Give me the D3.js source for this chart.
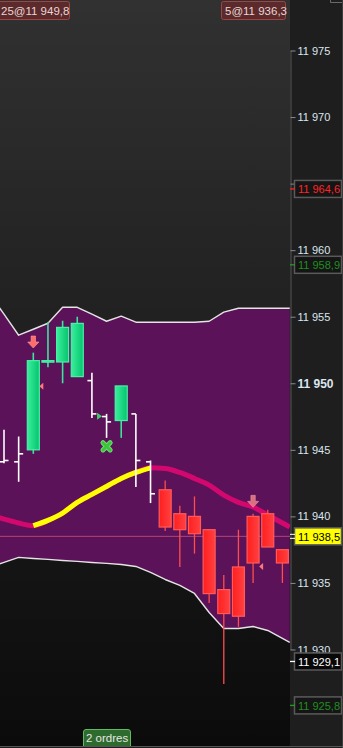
<!DOCTYPE html>
<html><head><meta charset="utf-8">
<script src="https://cdn.jsdelivr.net/npm/d3@7"></script>
<style>html,body{margin:0;padding:0;background:#1e1e1e;overflow:hidden}svg{display:block}</style>
</head><body><svg id="c" width="343" height="748"></svg>
<script>
// ---------- DATA ----------
const barKind = ["w","w","g","g","g","g","w","w","g","w","w","r","r","r","r","r","r","r","r","r"];
const opens  = [11944.1,11944.1,11945.0,11951.6,11951.6,11950.5,11950.2,11947.5,11947.2,11947.7,11944.1,11942.0,11940.2,11940.0,11939.0,11934.5,11936.2,11940.0,11940.2,11937.5];
const highs  = [11946.5,11946.0,11952.3,11954.6,11954.7,11955.0,11950.8,11947.7,11949.8,11947.7,11944.2,11942.7,11940.8,11941.5,11939.0,11935.6,11939.0,11940.2,11940.5,11937.5];
const lows   = [11944.0,11942.6,11944.7,11951.2,11950.0,11950.5,11947.4,11945.9,11945.9,11942.2,11941.0,11938.9,11936.2,11937.2,11933.5,11927.4,11931.7,11935.0,11937.7,11935.0];
const closes = [11944.2,11944.7,11951.7,11951.7,11954.2,11954.5,11947.7,11947.1,11949.8,11944.2,11941.7,11939.2,11939.0,11938.7,11934.2,11932.7,11932.5,11936.5,11937.7,11936.5];
const movingAvg = [11939.8,11939.5,11939.3,11939.7,11940.25,11941.05,11941.65,11942.25,11942.85,11943.3,11943.65,11943.6,11943.3,11942.85,11942.35,11941.6,11941.05,11940.7,11940.1,11939.5];
const maRisingFrom = 2, maRisingTo = 10;
const upperBand = [11955.19,11953.61,11954.06,11954.51,11955.71,11955.71,11955.19,11954.66,11955.04,11954.59,11954.59,11954.59,11954.59,11954.59,11954.66,11955.34,11955.64,11955.64,11955.64,11955.64];
const lowerBand = [11936.54,11936.92,11936.84,11936.77,11936.69,11936.62,11936.54,11936.47,11936.39,11936.24,11935.79,11935.26,11934.81,11934.21,11932.78,11931.58,11931.58,11931.73,11931.43,11930.83];
const tickValues = [11930,11935,11940,11945,11950,11955,11960,11965,11970,11975];
const lastPrice = 11938.5;
const priceLabels = [11964.6, 11958.9, 11938.5, 11929.1, 11925.8];
const orderQty = [25, 5];
const orderPrice = [11949.8, 11936.3];
const ordersText = "2 ordres";
const markerBars   = [2, 2, 7, 7, 17, 17];
const markerPrices = [11953.1, 11949.77, 11947.52, 11945.26, 11941.13, 11936.24];
const markerTypes  = ["arrowDown","triLeft","triRight","cross","arrowDownPale","triLeft"];

// ---------- STYLES / LAYOUT ----------
const W = 343, H = 748, plotW = 290, plotH = 746;
const labelStyle = [
  {fill:"#151515", text:"#ff2424", mark:"#ff2424"},
  {fill:"#151515", text:"#1f8f1f", mark:"#1f9f1f"},
  {fill:"#ffff00", text:"#000000", mark:"#ffffff", dbl:true},
  {fill:"#080808", text:"#ffffff", mark:"#ffffff"},
  {fill:"#151515", text:"#1f8f1f", mark:"#1f9f1f"}
];
const markerOffset = {arrowDown:0, arrowDownPale:0, triLeft:8, triRight:-7, cross:0};

const loc = d3.formatLocale({decimal:",", thousands:" ", grouping:[3], currency:["",""]});
const fmt0 = loc.format(",.0f"), fmt1 = loc.format(",.1f");
const FONT = "'Liberation Sans', Arial, sans-serif";

const svg = d3.select("#c");
const defs = svg.append("defs");
const bgG = defs.append("linearGradient").attr("id","bg").attr("x1",0).attr("y1",0).attr("x2",0).attr("y2",1);
bgG.append("stop").attr("offset","0%").attr("stop-color","#313131");
bgG.append("stop").attr("offset","100%").attr("stop-color","#0b0b0b");
const gG = defs.append("linearGradient").attr("id","gg").attr("x1",0).attr("x2",1).attr("y1",0).attr("y2",0);
gG.append("stop").attr("offset","0%").attr("stop-color","#3aee9c");
gG.append("stop").attr("offset","100%").attr("stop-color","#05c46e");
const rG = defs.append("linearGradient").attr("id","rg").attr("x1",0).attr("x2",1).attr("y1",0).attr("y2",0);
rG.append("stop").attr("offset","0%").attr("stop-color","#ff1f1f");
rG.append("stop").attr("offset","100%").attr("stop-color","#ff4040");
defs.append("clipPath").attr("id","clip").append("rect").attr("width",plotW).attr("height",plotH);

svg.append("rect").attr("width",W).attr("height",H).attr("fill","#1e1e1e");
svg.append("rect").attr("width",plotW).attr("height",plotH).attr("fill","url(#bg)");

const x = d3.scaleLinear().domain([0, 19]).range([4, 282.4]);
const y = d3.scaleLinear().domain([11930, 11975]).range([649.5, 50.5]);

const plot = svg.append("g").attr("clip-path","url(#clip)");
const idx = d3.range(barKind.length);
function extend(arr){
  const n = arr.length;
  const pts = arr.map((v,i)=>[i,v]);
  const a = -0.5, b = n - 0.5;
  pts.unshift([a, arr[0] + (arr[0]-arr[1])*0.5]);
  pts.push([b, arr[n-1] + (arr[n-1]-arr[n-2])*0.5]);
  return pts;
}
// Bollinger band
const up = extend(upperBand), lo = extend(lowerBand);
const band = up.map((p,k)=>[p[0], p[1], lo[k][1]]);
plot.append("path").datum(band)
  .attr("d", d3.area().x(d=>x(d[0])).y0(d=>y(d[2])).y1(d=>y(d[1])))
  .attr("fill","#5b1259");
const bl = d3.line().x(d=>x(d[0])).y(d=>y(d[1]));
[up, lo].forEach(s=>plot.append("path").datum(s).attr("d",bl)
  .attr("fill","none").attr("stroke","#e4e4e4").attr("stroke-width",1.4).attr("stroke-linejoin","round"));

// last price line
plot.append("line").attr("x1",0).attr("x2",plotW).attr("y1",y(lastPrice)).attr("y2",y(lastPrice))
  .attr("stroke","#c0507a").attr("stroke-width",1).attr("opacity",0.85);

// moving average
const ma = extend(movingAvg);
const maLine = d3.line().x(d=>x(d[0])).y(d=>y(d[1])).curve(d3.curveMonotoneX);
plot.append("path").datum(ma).attr("d",maLine).attr("fill","none")
  .attr("stroke","#d2086e").attr("stroke-width",5);
plot.append("path").datum(ma.filter(d=>d[0]>=maRisingFrom && d[0]<=maRisingTo)).attr("d",maLine)
  .attr("fill","none").attr("stroke","#ffff00").attr("stroke-width",5).attr("stroke-linecap","butt");

// candles
const cg = plot.append("g");
idx.forEach(i=>{
  const cx = x(i), k = barKind[i];
  if (k === "w") {
    const g = cg.append("g").attr("stroke","#ffffff").attr("stroke-width",1.6);
    g.append("line").attr("x1",cx).attr("x2",cx).attr("y1",y(highs[i])).attr("y2",y(lows[i]));
    g.append("line").attr("x1",cx-4.5).attr("x2",cx).attr("y1",y(opens[i])).attr("y2",y(opens[i]));
    g.append("line").attr("x1",cx).attr("x2",cx+4.5).attr("y1",y(closes[i])).attr("y2",y(closes[i]));
  } else {
    const green = k === "g";
    cg.append("line").attr("x1",cx).attr("x2",cx).attr("y1",y(highs[i])).attr("y2",y(lows[i]))
      .attr("stroke", green ? "#3de39c" : "#ff4d4d").attr("stroke-width", green ? 1.6 : 1.3);
    const top = y(Math.max(opens[i],closes[i])), bot = y(Math.min(opens[i],closes[i]));
    cg.append("rect").attr("x",cx-6).attr("width",12).attr("y",top).attr("height",Math.max(1.5,bot-top))
      .attr("fill", green ? "url(#gg)" : "url(#rg)")
      .attr("stroke", green ? "#48f2a8" : "#ff5a5a").attr("stroke-width",1.2);
  }
});

// markers
const mg = plot.append("g");
markerTypes.forEach((t,k)=>{
  const cx = x(markerBars[k]) + markerOffset[t], cy = y(markerPrices[k]);
  if (t === "arrowDown" || t === "arrowDownPale") {
    mg.append("path").attr("d",`M${cx-2.2},${cy-6} h4.4 v6 h3.4 L${cx},${cy+6} L${cx-5.6},${cy} h3.4 Z`)
      .attr("fill", t==="arrowDown" ? "#ff6c6c" : "#e87a86")
      .attr("stroke", t==="arrowDown" ? "#ff9c9c" : "#f0a0a8").attr("stroke-width",0.6)
      .attr("opacity", t==="arrowDown" ? 1 : 0.9);
  } else if (t === "triLeft") {
    mg.append("path").attr("d",`M${cx+2},${cy-3.5} L${cx-2},${cy} L${cx+2},${cy+3.5} Z`).attr("fill","#ff7878");
  } else if (t === "triRight") {
    mg.append("path").attr("d",`M${cx-2.5},${cy-3.5} L${cx+2.5},${cy} L${cx-2.5},${cy+3.5} Z`).attr("fill","#3fcf6a");
  } else if (t === "cross") {
    const s = 3.6;
    const p = `M${cx-s},${cy-s} L${cx+s},${cy+s} M${cx+s},${cy-s} L${cx-s},${cy+s}`;
    mg.append("path").attr("d",p).attr("stroke","#6fdc6f").attr("stroke-width",5).attr("stroke-linecap","round");
    mg.append("path").attr("d",p).attr("stroke","#3cc43c").attr("stroke-width",3).attr("stroke-linecap","round");
  }
});

// top order labels
const orderBoxes = [{x:-3, w:72}, {x:221, w:64}];
orderQty.forEach((q,k)=>{
  const b = orderBoxes[k];
  svg.append("rect").attr("x",b.x+0.5).attr("y",1.5).attr("width",b.w).attr("height",18).attr("rx",2)
    .attr("fill","#5c2a2a").attr("stroke","#9a4646");
  svg.append("text").attr("x",b.x+4).attr("y",15).attr("fill","#e8d6d6")
    .style("font",`11.5px ${FONT}`).text(`${q}@${fmt1(orderPrice[k])}`);
});

// axis
const axis = d3.axisRight(y).tickValues(tickValues).tickSize(5).tickSizeOuter(0).tickPadding(2).tickFormat(fmt0);
const ag = svg.append("g").attr("transform",`translate(${plotW+0.5},0)`).call(axis);
ag.select(".domain").attr("stroke","#575757");
ag.selectAll(".tick line").attr("stroke","#8a8a8a");
ag.selectAll(".tick text").attr("fill","#dbe5f0").style("font",`11px ${FONT}`)
  .style("font-weight", d => d===11950 ? "bold" : "normal")
  .style("font-size", d => d===11950 ? "12px" : "11px");

// price labels on axis
priceLabels.forEach((p,k)=>{
  const st = labelStyle[k], cy = y(p);
  svg.append("rect").attr("x",294.5).attr("y",cy-8.5).attr("width",47).attr("height",17)
    .attr("fill",st.fill).attr("stroke","#5a5a5a").attr("stroke-width",1.5);
  if (st.dbl) {
    svg.append("line").attr("x1",290).attr("x2",295).attr("y1",cy-2).attr("y2",cy-2).attr("stroke",st.mark);
    svg.append("line").attr("x1",290).attr("x2",295).attr("y1",cy+2).attr("y2",cy+2).attr("stroke",st.mark);
  } else {
    svg.append("line").attr("x1",290).attr("x2",295).attr("y1",cy).attr("y2",cy).attr("stroke",st.mark).attr("stroke-width",1.3);
  }
  svg.append("text").attr("x",298).attr("y",cy+4.2).attr("fill",st.text)
    .style("font",`11px ${FONT}`).text(fmt1(p));
});

// frame bits
svg.append("path").attr("d","M330.5,0 V2.5 H343").attr("fill","none").attr("stroke","#6a6a6a");
svg.append("line").attr("x1",342.5).attr("x2",342.5).attr("y1",0).attr("y2",H).attr("stroke","#3c3c3c");
svg.append("line").attr("x1",0).attr("x2",W).attr("y1",746.5).attr("y2",746.5).attr("stroke","#555");

// orders tab
svg.append("path").attr("d","M83.5,746 V732 Q83.5,729.5 86,729.5 H128 Q130.5,729.5 130.5,732 V746")
  .attr("fill","#2e6b2e").attr("stroke","#5fbb5f");
svg.append("text").attr("x",86).attr("y",742).attr("fill","#e6e6e6").style("font",`11.5px ${FONT}`).text(ordersText);
</script></body></html>
